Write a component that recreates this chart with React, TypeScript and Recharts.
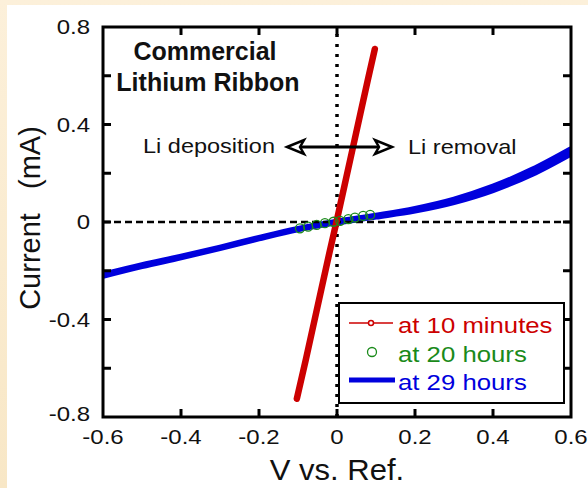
import React from "react";
import { ComposedChart, Line, Scatter, XAxis, YAxis, ReferenceLine } from "recharts";

// 10 minutes: steep ohmic line
const V_10MIN = [-0.103, -0.08, -0.06, -0.04, -0.02, 0, 0.02, 0.04, 0.06, 0.08, 0.097];
const I_10MIN = [-0.725, -0.565, -0.42, -0.275, -0.13, 0.01, 0.155, 0.3, 0.445, 0.59, 0.71];

// 20 hours: small circles near origin
const V_20H = [-0.095, -0.074, -0.052, -0.031, -0.009, 0.008, 0.029, 0.046, 0.067, 0.085];
const I_20H = [-0.026, -0.019, -0.012, -0.005, 0.001, 0.005, 0.012, 0.018, 0.025, 0.029];

// 29 hours: two sweeps of the wide curve
const V_29H = [-0.6, -0.5, -0.4, -0.3, -0.2, -0.1, 0, 0.1, 0.2, 0.3, 0.4, 0.5, 0.6];
const I_29H_UP = [-0.215, -0.176, -0.141, -0.104, -0.064, -0.027, 0.002, 0.027, 0.055, 0.093, 0.146, 0.215, 0.3];
const I_29H_DOWN = [-0.222, -0.182, -0.146, -0.108, -0.068, -0.031, -0.003, 0.021, 0.046, 0.081, 0.13, 0.196, 0.28];

const X_TICKS = [-0.6, -0.4, -0.2, 0, 0.2, 0.4, 0.6];
const Y_TICKS = [-0.8, -0.6, -0.4, -0.2, 0, 0.2, 0.4, 0.6, 0.8];
const Y_LABELED = [-0.8, -0.4, 0, 0.4, 0.8];

const zip = (vs: number[], is: number[]) => vs.map((v, k) => ({ v, i: is[k] }));
const data10 = zip(V_10MIN, I_10MIN);
const data20 = zip(V_20H, I_20H);
const data29up = zip(V_29H, I_29H_UP);
const data29down = zip(V_29H, I_29H_DOWN);

const W = 588;
const H = 488;
const PL = 103;
const PR = 571;
const PT = 27;
const PB = 417;
const FONT = "'Liberation Sans', Arial, sans-serif";
const RED = "#cc0000";
const GREEN = "#1a8a1a";
const BLUE = "#0000dd";

const fmt = (v: number) => (Math.abs(v) < 1e-9 ? "0" : v.toFixed(1));

const XTick = (props: any) => {
  const { x, payload } = props;
  const v = payload.value;
  const edge = Math.abs(Math.abs(v) - 0.6) < 1e-6;
  return (
    <g>
      {!edge && (
        <>
          <line x1={x} x2={x} y1={PB} y2={PB - 8} stroke="#000" strokeWidth={3} />
          <line x1={x} x2={x} y1={PT} y2={PT + 8} stroke="#000" strokeWidth={3} />
        </>
      )}
      <text transform={`translate(${x} ${PB + 27}) scale(1.2 1)`} textAnchor="middle" fontSize={20} fontFamily={FONT} fill="#111">
        {fmt(v)}
      </text>
    </g>
  );
};

const YTick = (props: any) => {
  const { y, payload } = props;
  const v = payload.value;
  const edge = Math.abs(Math.abs(v) - 0.8) < 1e-6;
  const labeled = Y_LABELED.some((t) => Math.abs(t - v) < 1e-6);
  const shift = v < -0.79 ? -3 : 0;
  return (
    <g>
      {!edge && (
        <>
          <line x1={PL} x2={PL + 8} y1={y} y2={y} stroke="#000" strokeWidth={3} />
          <line x1={PR} x2={PR - 8} y1={y} y2={y} stroke="#000" strokeWidth={3} />
        </>
      )}
      {labeled && (
        <text transform={`translate(${PL - 13} ${y + 7 + shift}) scale(1.2 1)`} textAnchor="end" fontSize={20} fontFamily={FONT} fill="#111">
          {fmt(v)}
        </text>
      )}
    </g>
  );
};

const Ring = (props: any) => <circle cx={props.cx} cy={props.cy} r={4.5} fill="none" stroke={GREEN} strokeWidth={1.3} />;

export default function App() {
  return (
    <div style={{ position: "absolute", left: 0, top: 0, width: W, height: H, background: "linear-gradient(180deg, #fcf0da, #f8e7c6)" }}>
      <div style={{ position: "absolute", left: 7, top: 5, width: W - 7, height: H - 5, background: "#fff" }} />
      <div style={{ position: "absolute", left: 0, top: 0 }}>
        <ComposedChart width={W} height={H} margin={{ top: PT, right: W - PR, bottom: H - PB - 30, left: PL - 60 }}>
          <XAxis type="number" dataKey="v" domain={[-0.6, 0.6]} ticks={X_TICKS} allowDataOverflow height={30} axisLine={false} tickLine={false} tick={<XTick />} interval={0} />
          <YAxis type="number" dataKey="i" domain={[-0.8, 0.8]} ticks={Y_TICKS} allowDataOverflow width={60} axisLine={false} tickLine={false} tick={<YTick />} interval={0} />
          <Line data={data29down} dataKey="i" type="monotone" stroke={BLUE} strokeWidth={5.5} dot={false} isAnimationActive={false} />
          <Line data={data29up} dataKey="i" type="monotone" stroke={BLUE} strokeWidth={5.5} dot={false} isAnimationActive={false} />
          <ReferenceLine y={0} stroke="#000" strokeWidth={2.5} strokeDasharray="7 4" />
          <ReferenceLine x={0} stroke="#000" strokeWidth={3.5} strokeDasharray="3 7" />
          <Scatter data={data20} dataKey="i" shape={<Ring />} isAnimationActive={false} />
          <Line data={data10} dataKey="i" type="linear" stroke={RED} strokeWidth={6.5} strokeLinecap="round" dot={false} isAnimationActive={false} />
        </ComposedChart>
      </div>
      <svg width={W} height={H} style={{ position: "absolute", left: 0, top: 0, pointerEvents: "none" }} fontFamily={FONT}>
        <rect x={PL} y={PT} width={PR - PL} height={PB - PT} fill="none" stroke="#000" strokeWidth={3} />
        <text x={205} y={60} textAnchor="middle" fontSize={25} fontWeight="bold" fill="#111">Commercial</text>
        <text x={208} y={91} textAnchor="middle" fontSize={25} fontWeight="bold" fill="#111">Lithium Ribbon</text>
        <text transform="translate(275 153) scale(1.12 1)" textAnchor="end" fontSize={21} fill="#111">Li deposition</text>
        <text transform="translate(408 154) scale(1.12 1)" textAnchor="start" fontSize={21} fill="#111">Li removal</text>
        <line x1={290} x2={389} y1={147} y2={147} stroke="#000" strokeWidth={3} />
        <polygon points="287,147 304,140 300,147 304,154" fill="#fff" stroke="#000" strokeWidth={2.5} strokeLinejoin="miter" />
        <polygon points="392,147 375,140 379,147 375,154" fill="#fff" stroke="#000" strokeWidth={2.5} strokeLinejoin="miter" />
        <text transform="translate(337 480) scale(1.07 1)" textAnchor="middle" fontSize={29} fill="#111">V vs. Ref.</text>
        <text transform="translate(40 218) rotate(-90)" textAnchor="middle" fontSize={29} fill="#111" style={{ whiteSpace: "pre" }}>{"Current   (mA)"}</text>
        <rect x={339} y={303} width={225} height={100} fill="#fff" stroke="#000" strokeWidth={2} />
        <line x1={349} x2={393} y1={323} y2={323} stroke={RED} strokeWidth={1.5} />
        <circle cx={371} cy={323} r={2.5} fill="#fff" stroke={RED} strokeWidth={1.5} />
        <text transform="translate(398 333) scale(1.17 1)" fontSize={22} fill={RED}>at 10 minutes</text>
        <circle cx={372} cy={352} r={4.5} fill="none" stroke={GREEN} strokeWidth={1.3} />
        <text transform="translate(398 362) scale(1.17 1)" fontSize={22} fill={GREEN}>at 20 hours</text>
        <line x1={349} x2={395} y1={380} y2={380} stroke={BLUE} strokeWidth={5} />
        <text transform="translate(398 390) scale(1.17 1)" fontSize={22} fill={BLUE}>at 29 hours</text>
      </svg>
    </div>
  );
}
